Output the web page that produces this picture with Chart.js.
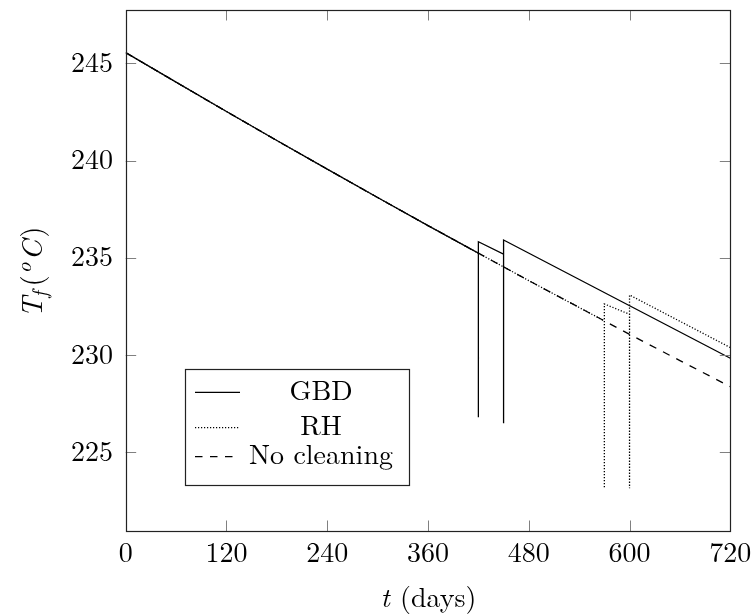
<!DOCTYPE html>
<html><head><meta charset="utf-8">
<script src="https://cdn.jsdelivr.net/npm/chart.js@4.4.0/dist/chart.umd.min.js"></script>
<style>html,body{margin:0;padding:0;background:#fff;}
.fp{position:absolute;left:-1000px;top:0;font-family:"Latin Modern Roman";}</style>
</head><body>
<span class="fp">Tf 0123456789 GBD RH No cleaning (days)</span>
<span class="fp" style="font-style:italic">Tf 0123456789 t C o</span>
<canvas id="c" width="755" height="616"></canvas>
<script>
// ---- data ----
const xTicks = [0, 120, 240, 360, 480, 600, 720];
const yTicks = [225, 230, 235, 240, 245];

const noCleanDays = [0, 60, 120, 180, 240, 300, 360, 420, 480, 540, 600, 660, 720];
const noCleanTemp = [245.55, 244.03, 242.52, 241.03, 239.56, 238.10, 236.66, 235.24, 233.83, 232.45, 231.07, 229.72, 228.38];

const gbdDays = [0, 60, 120, 180, 240, 300, 360, 420, 420, 420, 450, 450, 450, 720];
const gbdTemp = [245.55, 244.03, 242.52, 241.03, 239.56, 238.10, 236.66, 235.24, 226.81, 235.83, 235.19, 226.50, 235.92, 229.84];

const rhDays = [0, 60, 120, 180, 240, 300, 360, 420, 480, 540, 570, 570, 570, 600, 600, 600, 720];
const rhTemp = [245.55, 244.03, 242.52, 241.03, 239.56, 238.10, 236.66, 235.24, 233.83, 232.45, 231.76, 223.16, 232.63, 232.10, 223.16, 233.09, 230.39];

const seriesNames = ['GBD', 'RH', 'No cleaning'];

const pts = (xs, ys) => xs.map((x, i) => ({x: x, y: ys[i]}));
const SERIF = '"Latin Modern Roman", "Liberation Serif", serif';

const framePlugin = {
  id: 'frame',
  afterDatasetsDraw(chart) {
    const {ctx, chartArea: a, scales} = chart;
    const tl = 10.5;
    ctx.save();
    ctx.strokeStyle = '#808080';
    ctx.lineWidth = 1;
    ctx.beginPath();
    xTicks.forEach(v => {
      const px = Math.round(scales.x.getPixelForValue(v)) + 0.5;
      ctx.moveTo(px, a.bottom); ctx.lineTo(px, a.bottom - tl);
      ctx.moveTo(px, a.top); ctx.lineTo(px, a.top + tl);
    });
    yTicks.forEach(v => {
      const py = Math.round(scales.y.getPixelForValue(v)) + 0.5;
      ctx.moveTo(a.left, py); ctx.lineTo(a.left + tl, py);
      ctx.moveTo(a.right, py); ctx.lineTo(a.right - tl, py);
    });
    ctx.stroke();
    ctx.strokeStyle = '#222';
    ctx.lineWidth = 1.2;
    ctx.strokeRect(Math.round(a.left) + 0.5, Math.round(a.top) + 0.5,
                   Math.round(a.right) - Math.round(a.left), Math.round(a.bottom) - Math.round(a.top));
    ctx.restore();
  },
  afterDraw(chart) {
    const {ctx, chartArea: a} = chart;
    ctx.save();
    ctx.fillStyle = '#000';
    // x title: t (days)
    const cx = (a.left + a.right) / 2;
    ctx.font = 'italic 28px ' + SERIF;
    const w1 = ctx.measureText('t').width;
    ctx.font = '28px ' + SERIF;
    const w2 = ctx.measureText(' (days)').width;
    let x0 = cx - (w1 + w2) / 2;
    ctx.textBaseline = 'alphabetic';
    ctx.textAlign = 'left';
    ctx.font = 'italic 28px ' + SERIF;
    ctx.fillText('t', x0, 607);
    ctx.font = '28px ' + SERIF;
    ctx.fillText(' (days)', x0 + w1 + 1, 607);

    // y title: T_f(^oC)
    const segs = [
      {t: 'T', f: 'italic 29px ', dy: 0},
      {t: 'f', f: 'italic 21px ', dy: 5, pre: -1},
      {t: '(', f: '29px ', dy: 0, pre: 5},
      {t: 'o', f: 'italic 21px ', dy: -11, pre: 2},
      {t: 'C', f: 'italic 29px ', dy: 0, pre: 2},
      {t: ')', f: '29px ', dy: 0, pre: 2}
    ];
    let total = 0;
    segs.forEach(s => { ctx.font = s.f + SERIF; s.w = ctx.measureText(s.t).width; total += s.w + (s.pre || 0); });
    ctx.translate(33, 272);
    ctx.rotate(-Math.PI / 2);
    let xx = -total / 2;
    segs.forEach(s => {
      xx += (s.pre || 0);
      ctx.font = s.f + SERIF;
      ctx.fillText(s.t, xx, 9 + s.dy);
      xx += s.w;
    });
    ctx.restore();

    // legend
    ctx.save();
    const bx = 185.5, by = 369.5, bw = 224, bh = 116;
    ctx.fillStyle = '#fff';
    ctx.fillRect(bx, by, bw, bh);
    ctx.strokeStyle = '#222';
    ctx.lineWidth = 1.2;
    ctx.strokeRect(bx, by, bw, bh);
    const rowsY = [392.3, 427.7, 456.7];
    const baseY = [400, 435, 463.5];
    ctx.font = '28px ' + SERIF;
    ctx.textAlign = 'center';
    ctx.textBaseline = 'alphabetic';
    chart.data.datasets.forEach((ds, i) => {
      const y = rowsY[i];
      ctx.strokeStyle = ds.borderColor;
      ctx.lineWidth = ds.borderWidth;
      ctx.setLineDash(ds.borderDash || []);
      ctx.beginPath();
      ctx.moveTo(195, y); ctx.lineTo(240, y);
      ctx.stroke();
      ctx.setLineDash([]);
      ctx.fillStyle = '#000';
      ctx.fillText(ds.label, 321, baseY[i]);
    });
    ctx.restore();
  }
};

function zeroPad(s) { s.paddingTop = 0; s.paddingBottom = 0; s.paddingLeft = 0; s.paddingRight = 0; }

function draw() {
  new Chart(document.getElementById('c'), {
    type: 'scatter',
    data: {
      datasets: [
        {label: seriesNames[0], data: pts(gbdDays, gbdTemp), showLine: true, borderColor: '#000', borderWidth: 1.3, pointRadius: 0, tension: 0},
        {label: seriesNames[1], data: pts(rhDays, rhTemp), showLine: true, borderColor: '#000', borderWidth: 1.3, borderDash: [1.2, 1.8], pointRadius: 0, tension: 0},
        {label: seriesNames[2], data: pts(noCleanDays, noCleanTemp), showLine: true, borderColor: '#000', borderWidth: 1.3, borderDash: [7.5, 7.5], pointRadius: 0, tension: 0}
      ]
    },
    options: {
      responsive: false,
      animation: false,
      layout: {padding: {left: 0, top: 10, right: 24.7, bottom: 0}},
      plugins: {legend: {display: false}, tooltip: {enabled: false}},
      scales: {
        x: {
          type: 'linear', min: 0, max: 720,
          grid: {display: false, drawTicks: false},
          border: {display: false},
          afterBuildTicks: s => { s.ticks = xTicks.map(v => ({value: v})); },
          afterFit: s => { s.height = 85; zeroPad(s); },
          ticks: {autoSkip: false, maxRotation: 0, padding: 6, color: '#000', font: {family: SERIF, size: 28}}
        },
        y: {
          type: 'linear', min: 220.96, max: 247.74,
          grid: {display: false, drawTicks: false},
          border: {display: false},
          afterBuildTicks: s => { s.ticks = yTicks.map(v => ({value: v})); },
          afterFit: s => { s.width = 125.7; zeroPad(s); },
          ticks: {autoSkip: false, padding: 12.7, color: '#000', font: {family: SERIF, size: 28}}
        }
      }
    },
    plugins: [framePlugin]
  });
}

Promise.all([
  document.fonts.load('28px "Latin Modern Roman"'),
  document.fonts.load('italic 28px "Latin Modern Roman"')
]).then(draw, draw);
</script>
</body></html>
